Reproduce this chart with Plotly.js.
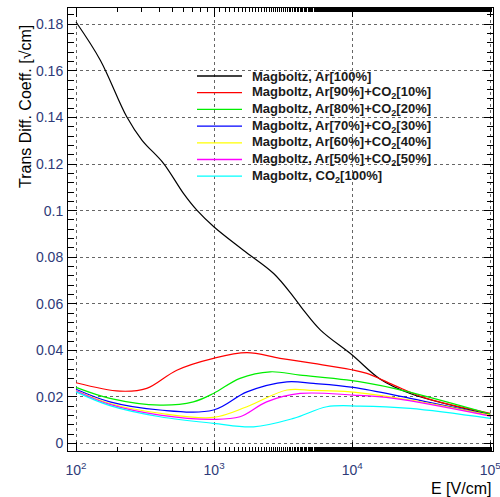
<!DOCTYPE html>
<html>
<head>
<meta charset="utf-8">
<script src="https://cdn.plot.ly/plotly-3.0.1.min.js"></script>
<style>html,body{margin:0;padding:0;background:#fff;}#chart{width:500px;height:497px;}</style>
</head>
<body>
<div id="chart"></div>
<script>
// Series names
const names = [
  "Magboltz, Ar[100%]",
  "Magboltz, Ar[90%]+CO<sub>2</sub>[10%]",
  "Magboltz, Ar[80%]+CO<sub>2</sub>[20%]",
  "Magboltz, Ar[70%]+CO<sub>2</sub>[30%]",
  "Magboltz, Ar[60%]+CO<sub>2</sub>[40%]",
  "Magboltz, Ar[50%]+CO<sub>2</sub>[50%]",
  "Magboltz, CO<sub>2</sub>[100%]"
];
const colors = ["#000000", "#ff0000", "#00ee00", "#0000ff", "#ffff00", "#ff00ff", "#00ffff"];

// E [V/cm] and transverse diffusion coefficient values per series
const E_ar100 = [100, 150, 233, 300, 430, 600, 750, 1000, 1630, 2700, 3760, 4440, 5900, 10000, 16000, 26300, 100000];
const D_ar100 = [0.181, 0.1646, 0.1403, 0.1303, 0.1203, 0.1074, 0.1002, 0.093, 0.083, 0.073, 0.063, 0.0573, 0.0487, 0.038, 0.0276, 0.0215, 0.0125];

const E_ar90 = [100, 208, 325, 537, 990, 1730, 3000, 5250, 9700, 12800, 20000, 34700, 100000];
const D_ar90 = [0.0261, 0.0225, 0.0237, 0.0315, 0.0366, 0.039, 0.0366, 0.0344, 0.0318, 0.0301, 0.0251, 0.0194, 0.013];

const E_ar80 = [100, 176, 406, 708, 990, 1540, 2550, 4200, 9140, 20000, 100000];
const D_ar80 = [0.0241, 0.0194, 0.0165, 0.0179, 0.0215, 0.028, 0.0308, 0.0294, 0.0273, 0.0237, 0.0127];

const E_ar70 = [100, 176, 406, 990, 1730, 3370, 5250, 10200, 26300, 100000];
const D_ar70 = [0.0233, 0.0179, 0.0144, 0.0144, 0.0222, 0.0265, 0.0258, 0.0241, 0.0194, 0.0122];

const E_ar60 = [100, 176, 406, 990, 1730, 3370, 5250, 9700, 26300, 100000];
const D_ar60 = [0.0228, 0.0172, 0.013, 0.0112, 0.0158, 0.023, 0.0228, 0.0222, 0.0187, 0.0122];

const E_ar50 = [100, 176, 406, 990, 1540, 2400, 4200, 10200, 20000, 100000];
const D_ar50 = [0.0227, 0.0168, 0.0122, 0.0104, 0.0115, 0.0179, 0.0215, 0.0208, 0.0194, 0.0118];

const E_co2 = [100, 176, 406, 990, 1930, 3760, 6560, 11400, 26300, 100000];
const D_co2 = [0.0222, 0.0163, 0.0115, 0.0087, 0.0072, 0.0108, 0.0158, 0.0161, 0.0151, 0.0108];

const xs = [E_ar100, E_ar90, E_ar80, E_ar70, E_ar60, E_ar50, E_co2];
const ys = [D_ar100, D_ar90, D_ar80, D_ar70, D_ar60, D_ar50, D_co2];

const xTickVals = [100, 1000, 10000, 100000];
const xTickText = ["10<sup>2</sup>", "10<sup>3</sup>", "10<sup>4</sup>", "10<sup>5</sup>"];

const traces = names.map((n, i) => ({
  x: xs[i], y: ys[i], name: n, type: "scatter", mode: "lines",
  line: {color: colors[i], width: 1.2, shape: "spline", smoothing: 1},
  showlegend: false
}));

// plot area in pixels
const L = 68, R = 493, T = 8, B = 451;
const px2x = p => (p - L) / (R - L);
const px2y = p => (B - p) / (B - T);

const tickFont = {family: "Liberation Sans, Arial, sans-serif", size: 14, color: "#2e3a78"};

// Legend (drawn manually for compact spacing, built from names/colors)
const legShapes = [];
const legAnn = [];
names.forEach((n, i) => {
  const py = 76 + 16.7 * i;
  legShapes.push({type: "line", xref: "paper", yref: "paper", layer: "above",
    x0: px2x(197), x1: px2x(242), y0: px2y(py), y1: px2y(py),
    line: {color: colors[i], width: 1.3}});
  legAnn.push({text: n, xref: "paper", yref: "paper", x: px2x(250), y: px2y(py),
    xanchor: "left", yanchor: "middle", showarrow: false,
    font: {family: "Liberation Sans, Arial, sans-serif", size: 13, color: "#1a1a1a", weight: "bold"}});
});

const layout = {
  width: 500, height: 497,
  margin: {l: L, r: 500 - R, t: T, b: 497 - B},
  paper_bgcolor: "#ffffff", plot_bgcolor: "#ffffff",
  showlegend: false,
  xaxis: {
    type: "log", range: [1.942, 5.02],
    showline: true, linecolor: "#000", linewidth: 1, mirror: "allticks",
    ticks: "inside", ticklen: 9, tickcolor: "#000",
    tickvals: xTickVals, ticktext: xTickText,
    tickfont: tickFont, ticklabeloverflow: "allow",
    showgrid: true, gridcolor: "#666", griddash: "dot", gridwidth: 1,
    zeroline: false,
    minor: {ticks: "inside", ticklen: 4, tickcolor: "#000", showgrid: false},
    ticklabelstandoff: 6
  },
  yaxis: {
    range: [-0.0032, 0.187],
    showline: true, linecolor: "#000", linewidth: 1, mirror: "allticks",
    ticks: "inside", ticklen: 9, tickcolor: "#000",
    tick0: 0, dtick: 0.02,
    tickfont: tickFont,
    showgrid: true, gridcolor: "#666", griddash: "dot", gridwidth: 1,
    zeroline: false,
    minor: {ticks: "inside", ticklen: 6, tickcolor: "#000", dtick: 0.004, showgrid: false},
    ticklabelstandoff: 1
  },
  shapes: legShapes,
  annotations: [
    {text: "Trans Diff. Coeff. [√cm]", xref: "paper", yref: "paper",
     x: px2x(25), y: px2y(107), xanchor: "center", yanchor: "middle",
     textangle: -90, showarrow: false,
     font: {family: "Liberation Sans, Arial, sans-serif", size: 16, color: "#000"}},
    {text: "E [V/cm]", xref: "paper", yref: "paper",
     x: 1, y: px2y(488), xanchor: "right", yanchor: "middle",
     showarrow: false,
     font: {family: "Liberation Sans, Arial, sans-serif", size: 16, color: "#000"}}
  ].concat(legAnn)
};

Plotly.newPlot("chart", traces, layout, {staticPlot: true, displayModeBar: false});
</script>
</body>
</html>
